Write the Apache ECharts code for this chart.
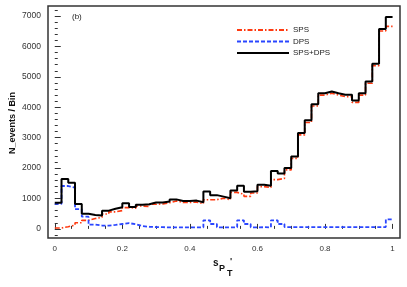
<!DOCTYPE html>
<html>
<head>
<meta charset="utf-8">
<script src="https://cdn.jsdelivr.net/npm/echarts@6/dist/echarts.min.js"></script>
<style>
html,body{margin:0;padding:0;background:#fff;}
#chart{width:407px;height:287px;}
</style>
</head>
<body>
<div id="chart"></div>
<script>
// Histogram: 50 bins of width 0.02 on s_PT' in [0,1]
const binWidth = 0.02;
const seriesNames = ['SPS', 'DPS', 'SPS+DPS'];
const sps = [30, 70, 120, 200, 280, 340, 380, 490, 560, 600,
             700, 680, 750, 740, 810, 820, 860, 920, 870, 870,
             880, 830, 960, 960, 1010, 960, 1200, 1140, 1070, 1180,
             1390, 1360, 1620, 1660, 1940, 2320, 3090, 3500, 4040, 4400,
             4460, 4400, 4350, 4350, 4160, 4400, 4790, 5370, 6510, 6660];
const dps = [820, 1410, 1360, 650, 400, 140, 110, 110, 130, 160,
             190, 150, 90, 70, 60, 55, 50, 50, 50, 50,
             50, 50, 280, 160, 50, 50, 50, 280, 160, 50,
             55, 50, 280, 160, 60, 60, 60, 60, 60, 60,
             60, 60, 60, 60, 60, 60, 60, 60, 60, 310];
const total = [860, 1640, 1520, 820, 500, 460, 440, 600, 660, 710,
               845, 720, 790, 810, 870, 870, 900, 970, 920, 920,
               930, 875, 1230, 1110, 1060, 1010, 1260, 1420, 1220, 1240,
               1450, 1415, 1900, 1820, 2000, 2380, 3150, 3570, 4100, 4460,
               4520, 4460, 4410, 4410, 4220, 4460, 4850, 5430, 6570, 6970];
const xLabelValues = [0, 0.2, 0.4, 0.6, 0.8, 1];
const xMinorValues = [0.05, 0.1, 0.15, 0.25, 0.3, 0.35, 0.45, 0.5, 0.55, 0.65, 0.7, 0.75, 0.85, 0.9, 0.95];
const yLabelValues = [0, 1000, 2000, 3000, 4000, 5000, 6000, 7000];
const yMinorValues = [-200, 200, 400, 600, 800, 1200, 1400, 1600, 1800, 2200, 2400, 2600, 2800,
                      3200, 3400, 3600, 3800, 4200, 4400, 4600, 4800, 5200, 5400, 5600, 5800,
                      6200, 6400, 6600, 6800, 7200];

function toSteps(arr) {
  const pts = arr.map((v, i) => [+(i * binWidth).toFixed(2), v]);
  pts.push([+(arr.length * binWidth).toFixed(2), arr[arr.length - 1]]);
  return pts;
}

const FONT = 'Liberation Sans, Arial, Helvetica, sans-serif';
const chart = echarts.init(document.getElementById('chart'), null, {renderer: 'canvas'});
const xMin = -0.02, xMax = 1.022, yMin = -300, yMax = 7330;
const grid = {left: 48, right: 7, top: 6, bottom: 49, show: true, borderColor: '#333', borderWidth: 1.5, backgroundColor: 'transparent'};

chart.setOption({
  animation: false,
  backgroundColor: '#fff',
  grid: grid,
  legend: {
    data: seriesNames,
    orient: 'vertical',
    left: 236, top: 26,
    itemWidth: 52, itemHeight: 10, itemGap: 3.5,
    padding: 0,
    itemStyle: {opacity: 0},
    textStyle: {fontFamily: FONT, fontSize: 8, color: '#222', padding: [0, 0, 0, -1]}
  },
  xAxis: [{
    type: 'value', min: xMin, max: xMax, position: 'bottom',
    axisLine: {show: false},
    splitLine: {show: false},
    axisTick: {show: true, inside: true, length: 5, customValues: xLabelValues, lineStyle: {color: '#333', width: 1}},
    axisLabel: {show: true, customValues: xLabelValues, fontFamily: FONT, fontSize: 8, color: '#333', margin: 7,
                formatter: v => String(v)}
  }, {
    type: 'value', min: xMin, max: xMax, position: 'bottom',
    axisLine: {show: false},
    splitLine: {show: false},
    axisTick: {show: true, inside: true, length: 3, customValues: xMinorValues, lineStyle: {color: '#333', width: 1}},
    axisLabel: {show: false}
  }],
  yAxis: [{
    type: 'value', min: yMin, max: yMax, position: 'left',
    axisLine: {show: false},
    splitLine: {show: false},
    axisTick: {show: true, inside: true, length: 6, customValues: yLabelValues, lineStyle: {color: '#333', width: 1}},
    axisLabel: {show: true, customValues: yLabelValues, fontFamily: FONT, fontSize: 8.5, color: '#333', margin: 7,
                formatter: v => String(v)}
  }, {
    type: 'value', min: yMin, max: yMax, position: 'left',
    axisLine: {show: false},
    splitLine: {show: false},
    axisTick: {show: true, inside: true, length: 3, customValues: yMinorValues, lineStyle: {color: '#333', width: 1}},
    axisLabel: {show: false}
  }],
  graphic: [
    {type: 'text', left: 72, top: 13, style: {text: '(b)', font: '8px ' + FONT, fill: '#222'}},
    {type: 'text', x: 13, y: 123, rotation: Math.PI / 2,
     style: {text: 'N_events / Bin', font: 'bold 9px ' + FONT, fill: '#111', align: 'center', verticalAlign: 'middle'}},
    {type: 'text', x: 213, y: 258, style: {text: 's', font: 'bold 10px ' + FONT, fill: '#111'}},
    {type: 'text', x: 219, y: 264, style: {text: 'P', font: 'bold 9px ' + FONT, fill: '#111'}},
    {type: 'text', x: 227, y: 269, style: {text: 'T', font: 'bold 9px ' + FONT, fill: '#111'}},
    {type: 'text', x: 230, y: 257, style: {text: "'", font: 'bold 9px ' + FONT, fill: '#111'}}
  ],
  series: [{
    name: seriesNames[0], type: 'line', step: 'end', symbol: 'none', showSymbol: false,
    xAxisIndex: 0, yAxisIndex: 0, z: 2,
    data: toSteps(sps),
    itemStyle: {color: '#ff3a10'},
    lineStyle: {color: '#ff3a10', width: 1.6, type: [5, 2, 1.5, 2]}
  }, {
    name: seriesNames[1], type: 'line', step: 'end', symbol: 'none', showSymbol: false,
    xAxisIndex: 0, yAxisIndex: 0, z: 3,
    data: toSteps(dps),
    itemStyle: {color: '#2a46ff'},
    lineStyle: {color: '#2a46ff', width: 1.8, type: [4, 2]}
  }, {
    name: seriesNames[2], type: 'line', step: 'end', symbol: 'none', showSymbol: false,
    xAxisIndex: 0, yAxisIndex: 0, z: 4,
    data: toSteps(total),
    itemStyle: {color: '#000'},
    lineStyle: {color: '#000', width: 2}
  }]
});
</script>
</body>
</html>
